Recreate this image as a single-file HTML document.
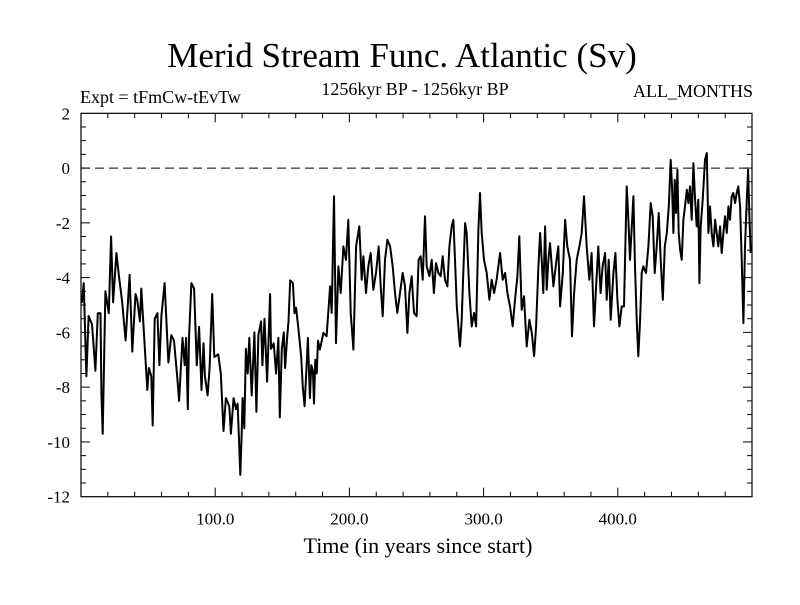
<!DOCTYPE html>
<html><head><meta charset="utf-8"><style>
body{margin:0;background:#fff;}
svg text{font-family:"Liberation Serif",serif;fill:#000;}
</style></head><body>
<svg id="chart" width="800" height="600" xmlns="http://www.w3.org/2000/svg">
<rect width="800" height="600" fill="#fff"/>
<text x="402" y="67" font-size="35" text-anchor="middle">Merid Stream Func. Atlantic (Sv)</text>
<text x="80" y="103" font-size="18">Expt = tFmCw-tEvTw</text>
<text x="415" y="95" font-size="18" text-anchor="middle">1256kyr BP - 1256kyr BP</text>
<text x="753" y="97" font-size="18" text-anchor="end">ALL_MONTHS</text>
<text x="418" y="553" font-size="22" text-anchor="middle">Time (in years since start)</text>
<g id="axes"></g>
<g id="plot"></g>
</svg>
<script>
const years=[0,0.7,2,4,5.7,8.2,10.7,12.5,14.5,15.2,16.2,18.2,20.7,22.4,23.9,26.4,28.2,30.7,33.2,36.2,38.2,40.6,41.9,43.9,44.9,46.9,49.4,50.6,52.4,53.4,54.9,56.9,58.4,59.9,62.3,65.1,67.3,69.3,71.8,73.1,75.6,77.3,78.3,79.6,80.5,82.3,84.3,86.3,88,89.8,91.3,92.3,94.3,95.8,97.8,99.3,102.2,104.2,106.2,108,110.5,111.7,113.7,115.5,116.7,118,118.7,119.7,120.4,121.7,122.9,124.2,125.4,127.2,129.2,130.7,132.2,134.2,135.2,136.7,138.7,140.9,141.6,143.6,145.4,147.1,148.1,149.6,151.1,152.1,153.6,154.6,155.9,157.9,159.1,160.3,162.1,164.1,165.3,166.6,167.8,169.1,170.6,171.6,172.8,173.6,174.6,175.6,176.6,178,180.6,183,185.6,186.8,188.5,190,191.8,193.5,195.5,197.5,199.2,201,203,205,207.4,209.2,210.4,212.4,214.1,215.9,217.8,219.8,221.8,223.3,224.8,226.5,228.3,230.3,232.3,234,235.7,237.7,239.7,241.4,243.2,244.7,246.4,248.1,250.1,251.6,253.1,254.6,256.3,257.6,259.6,261.3,263,264.5,266.3,268,269.5,271.2,273,274.5,276.2,277.5,278.7,280,281.2,282.4,283.7,284.9,286.2,287.4,289.4,291.1,292.9,294.4,296.1,297.3,298.6,300.3,302.3,304.3,306,307.8,309.7,312.3,314.2,316,317.7,319.7,321.7,323.4,325.2,326.6,328.4,330.1,332.1,334.1,335.9,337.6,339.1,340.8,342.1,343.3,344.5,345.8,347,348.3,349.5,352,354,355.7,357,359,360.7,362.4,364.4,365.9,367.4,369.4,371.4,373.1,374.8,376.8,378.8,380.5,382.3,383.8,385.5,387.2,388.7,390.5,391.7,393.2,394.7,396.7,398.2,399.7,401.2,402.9,404.6,406.6,407.9,409.1,410.4,411.6,412.8,414.1,415.3,416.6,417.8,419,421,422.8,424.5,426,427.5,429,430.5,432,433.5,435,436.5,438,439.4,440.4,441.4,442.4,443.4,444.4,445.4,446.4,447.6,448.9,450.1,451.4,452.6,453.8,455.1,456.3,457.6,458.8,460,460.8,461.8,463.3,465,466.3,467.5,468.7,470,471.2,472.5,473.7,474.9,476.2,477.4,478.7,479.9,481.2,482.4,483.6,484.9,486.1,487.4,488.6,489.8,491.1,492.3,493.6,494.8,496.1,497.1,498.1,499];
const values=[-4.9,-4.9,-4.2,-7.6,-5.4,-5.7,-7.4,-5.3,-5.3,-8.2,-9.7,-4.5,-5.3,-2.5,-4.9,-3.1,-3.9,-4.9,-6.3,-3.9,-6.7,-4.6,-4.8,-5.6,-4.4,-6.0,-8.1,-7.3,-7.6,-9.4,-5.5,-5.3,-7.2,-5.4,-4.2,-7.1,-6.1,-6.3,-7.7,-8.5,-6.2,-7.2,-6.2,-8.8,-6.2,-4.2,-4.4,-7.2,-5.8,-8.1,-6.4,-7.6,-8.3,-7.3,-4.6,-6.9,-6.8,-7.5,-9.6,-8.4,-8.7,-9.7,-8.4,-8.8,-8.6,-10.3,-11.2,-9.8,-8.4,-9.5,-6.6,-7.5,-6.2,-8.3,-6.0,-8.9,-6.1,-5.6,-7.2,-5.5,-7.8,-4.6,-6.6,-6.4,-7.5,-6.2,-9.1,-6.6,-6.0,-7.3,-6.2,-5.6,-4.1,-4.2,-5.3,-5.1,-5.9,-6.9,-8.0,-8.7,-7.5,-6.2,-8.4,-7.2,-7.4,-8.6,-7.0,-7.5,-6.3,-6.63,-6.02,-6.14,-4.32,-5.29,-1.03,-6.39,-3.59,-4.56,-2.86,-3.35,-1.89,-5.29,-6.63,-2.86,-2.13,-4.08,-3.22,-4.56,-3.59,-3.10,-4.44,-3.83,-2.86,-4.32,-5.41,-3.35,-2.62,-2.86,-3.59,-4.56,-5.29,-4.56,-3.83,-4.32,-6.02,-4.56,-3.95,-5.29,-5.41,-3.35,-3.22,-4.08,-1.76,-3.59,-3.95,-3.35,-4.56,-3.47,-3.83,-3.95,-3.22,-4.08,-4.32,-2.86,-2.13,-1.89,-3.35,-5.05,-5.78,-6.51,-5.54,-3.83,-2.01,-2.37,-4.56,-5.78,-5.29,-5.78,-2.25,-0.91,-2.37,-3.35,-3.83,-4.81,-4.08,-4.56,-4.08,-3.10,-4.08,-3.83,-4.56,-5.05,-5.78,-4.81,-3.95,-2.49,-5.17,-4.68,-6.51,-5.54,-6.02,-6.87,-5.78,-3.59,-2.37,-3.35,-4.56,-2.13,-4.44,-3.35,-2.74,-4.32,-3.47,-2.86,-5.05,-3.83,-1.89,-2.86,-3.35,-6.14,-4.56,-3.35,-2.86,-2.37,-1.03,-2.86,-4.08,-3.10,-5.78,-4.32,-2.86,-4.56,-3.59,-3.10,-4.81,-3.35,-5.54,-3.83,-3.10,-4.81,-5.78,-5.05,-5.05,-0.67,-1.89,-3.35,-2.13,-1.03,-3.59,-5.54,-6.87,-5.54,-3.83,-3.59,-3.83,-2.86,-1.28,-1.76,-3.83,-2.86,-1.64,-3.35,-4.81,-2.86,-2.37,-1.40,0.30,-0.67,-2.37,-0.43,-1.64,-0.06,-2.37,-2.98,-3.35,-1.89,-1.40,-0.79,-1.28,-0.67,-1.89,0.18,-1.16,-2.13,-1.16,-4.20,-2.13,-1.16,0.30,0.55,-2.37,-1.40,-2.37,-2.86,-1.89,-2.37,-2.86,-2.13,-3.10,-2.37,-1.76,-2.37,-1.40,-1.89,-1.03,-0.91,-1.28,-0.91,-0.67,-1.40,-3.35,-5.66,-2.86,-1.16,-0.06,-1.89,-3.10];
const xTicks=[100,200,300,400];
const xTickLabels=["100.0","200.0","300.0","400.0"];
const yTicks=[2,0,-2,-4,-6,-8,-10,-12];
const yTickLabels=["2","0","-2","-4","-6","-8","-10","-12"];

const L=81,R=752,T=113.3,B=496.7,X0=0,X1=500,Y0=-12,Y1=2;
const xs=v=>L+(v-X0)/(X1-X0)*(R-L);
const ys=v=>B-(v-Y0)/(Y1-Y0)*(B-T);
const NS="http://www.w3.org/2000/svg";
const axes=document.getElementById('axes'),plot=document.getElementById('plot');
function mk(tag,attrs,parent){const e=document.createElementNS(NS,tag);for(const k in attrs)e.setAttribute(k,attrs[k]);parent.appendChild(e);return e;}

const zl=mk('line',{x1:L,x2:R,y1:ys(0),y2:ys(0),stroke:'#000','stroke-width':1,'stroke-dasharray':'9,5'},plot);



let d='';
for(let i=0;i<years.length;i++){d+=(i?'L':'M')+xs(years[i]).toFixed(1)+' '+ys(values[i]).toFixed(1);}
const ln=mk('path',{d:d,fill:'none',stroke:'#000','stroke-width':2,'stroke-linejoin':'round'},plot);



const frame=mk('rect',{x:L,y:T,width:R-L,height:B-T,fill:'none',stroke:'#000','stroke-width':1.2},axes);



for(let v=20;v<X1;v+=20){
  const major=v%100===0,len=major?9:5,x=xs(v);
  const t1=mk('line',{x1:x,x2:x,y1:B,y2:B-len,stroke:'#000','stroke-width':1},axes);
  
  
  const t2=mk('line',{x1:x,x2:x,y1:T,y2:T+len,stroke:'#000','stroke-width':1},axes);
  
  
}
xTicks.forEach((v,i)=>{
  const t=mk('text',{x:xs(v),y:B+28,'font-size':17,'text-anchor':'middle'},axes);
  t.textContent=xTickLabels[i];
  
  
});
for(let v=Y0+0.5;v<Y1;v+=0.5){
  const major=Math.abs(v%2)<1e-6,len=major?9:5,y=ys(v);
  const t1=mk('line',{x1:L,x2:L+len,y1:y,y2:y,stroke:'#000','stroke-width':1},axes);
  
  
  const t2=mk('line',{x1:R,x2:R-len,y1:y,y2:y,stroke:'#000','stroke-width':1},axes);
  
  
}
yTicks.forEach((v,i)=>{
  const t=mk('text',{x:70,y:ys(v)+6,'font-size':17,'text-anchor':'end'},axes);
  t.textContent=yTickLabels[i];
  
  
});
</script>
</body></html>
